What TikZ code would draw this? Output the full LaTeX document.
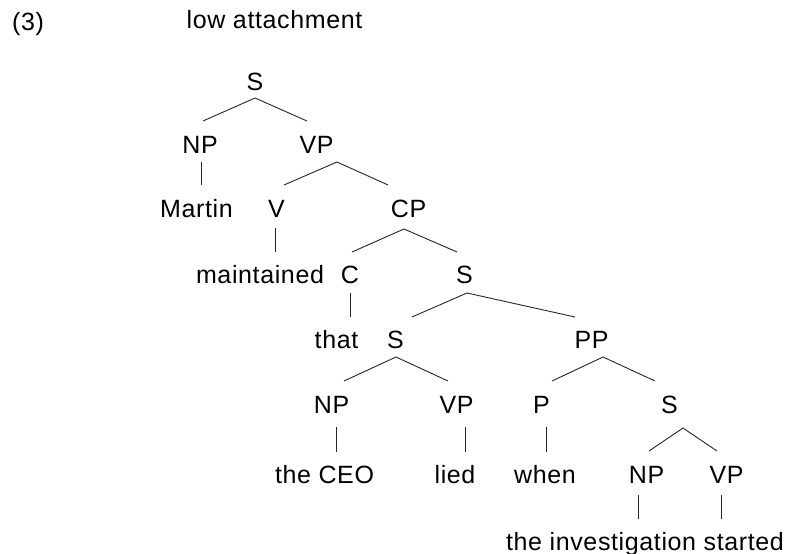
\documentclass[tikz,border=0pt]{standalone}
\usepackage{fontspec}
\setmainfont{Liberation Sans}[LetterSpace=2.5]
\usetikzlibrary{calc}
\begin{document}
\begin{tikzpicture}[x=1pt,y=1pt,
  lbl/.style={anchor=base,inner sep=0pt,font=\fontsize{25}{30}\selectfont},
  edge/.style={line width=0.9pt,draw=black!85}]
\useasboundingbox[fill=white] (0,0) rectangle (787,-554);
% title
\node[lbl] (num) at (28,-30) {(3)};
\node[lbl] (ttl) at (274.5,-28.5) {low attachment};
% tree nodes
\node[lbl] (s0) at (255,-90) {S};
\node[lbl] (np1) at (200,-153) {NP};
\node[lbl] (vp1) at (316.5,-153) {VP};
\node[lbl] (martin) at (196.5,-217) {Martin};
\node[lbl] (v1) at (276.5,-217) {V};
\node[lbl] (cp) at (408.5,-217) {CP};
\node[lbl] (maint) at (260,-283.5) {maintained};
\node[lbl] (c1) at (350,-283.5) {C};
\node[lbl] (s1) at (464.5,-283.5) {S};
\node[lbl] (that) at (336.5,-348) {that};
\node[lbl] (s2) at (395.5,-348) {S};
\node[lbl] (pp) at (591.5,-348) {PP};
\node[lbl] (np2) at (331.5,-413) {NP};
\node[lbl] (vp2) at (456.5,-413) {VP};
\node[lbl] (p1) at (541.5,-413) {P};
\node[lbl] (s3) at (669.5,-413) {S};
\node[lbl] (ceo) at (324.5,-483) {the CEO};
\node[lbl] (lied) at (455,-483) {lied};
\node[lbl] (when) at (545,-483) {when};
\node[lbl] (np3) at (646.5,-483) {NP};
\node[lbl] (vp3) at (726.5,-483) {VP};
\node[lbl] (inv) at (645,-550) {the investigation started};
% connectors
\draw[edge] ($(np1.base)+(3,32)$) -- ($(s0.base)+(0,-8)$) -- ($(vp1.base)+(-9.5,32)$);
\draw[edge] ($(np1.base)+(1,-9)$) -- ($(np1.base|-martin.base)+(1,32)$);
\draw[edge] ($(v1.base)+(7.5,32)$) -- ($(vp1.base)+(20.5,-9)$) -- ($(cp.base)+(-20.5,32)$);
\draw[edge] ($(v1.base)+(-1.5,-11)$) -- ($(v1.base|-maint.base)+(-1.5,31.5)$);
\draw[edge] ($(c1.base)+(2,31.5)$) -- ($(cp.base)+(-4.5,-12)$) -- ($(s1.base)+(-7.5,31.5)$);
\draw[edge] ($(c1.base)+(0,-9.5)$) -- ($(c1.base|-that.base)+(0,31)$);
\draw[edge] ($(s2.base)+(16.5,31)$) -- ($(s1.base)+(2.5,-9.5)$) -- ($(pp.base)+(-16.5,31)$);
\draw[edge] ($(np2.base)+(12.5,32)$) -- ($(s2.base)+(0.5,-9)$) -- ($(vp2.base)+(-8.5,32)$);
\draw[edge] ($(p1.base)+(10.5,32)$) -- ($(pp.base)+(11.5,-9)$) -- ($(s3.base)+(-14.5,32)$);
\draw[edge] ($(np2.base)+(4.5,-13.7)$) -- ($(np2.base|-ceo.base)+(4.5,31.3)$);
\draw[edge] ($(vp2.base)+(8.5,-13.7)$) -- ($(vp2.base|-lied.base)+(8.5,31.3)$);
\draw[edge] ($(p1.base)+(4.5,-13.7)$) -- ($(p1.base|-when.base)+(4.5,31.3)$);
\draw[edge] ($(np3.base)+(2.5,32)$) -- ($(s3.base)+(13.5,-15)$) -- ($(vp3.base)+(-9.5,32)$);
\draw[edge] ($(np3.base)+(-8.5,-12)$) -- ($(np3.base|-inv.base)+(-8.5,31)$);
\draw[edge] ($(vp3.base)+(-5.5,-12)$) -- ($(vp3.base|-inv.base)+(-5.5,31)$);
\end{tikzpicture}
\end{document}
